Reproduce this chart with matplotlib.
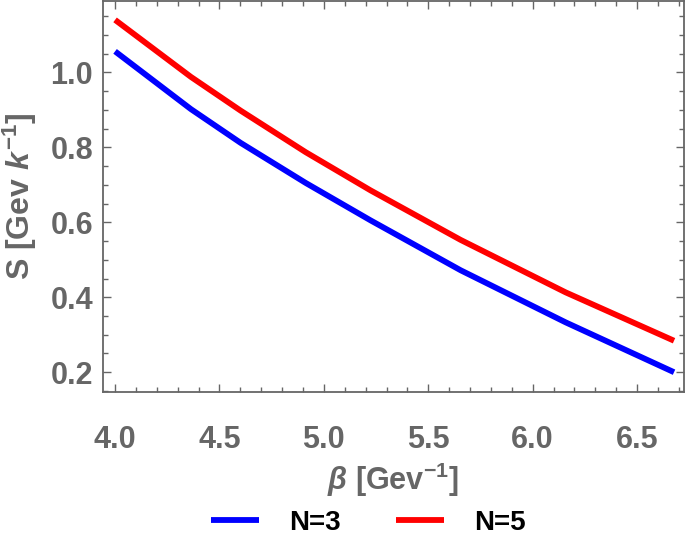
import matplotlib
matplotlib.use("Agg")
import matplotlib.pyplot as plt
from matplotlib.ticker import MultipleLocator

plt.rcParams["font.family"] = ["Liberation Sans", "DejaVu Sans"]
plt.rcParams["font.weight"] = "bold"
plt.rcParams["axes.labelweight"] = "bold"
plt.rcParams["mathtext.fontset"] = "custom"
plt.rcParams["mathtext.rm"] = "Liberation Sans:bold"
plt.rcParams["mathtext.it"] = "Liberation Sans:bold:italic"
plt.rcParams["mathtext.bf"] = "Liberation Sans:bold"

# values
beta = [4.0, 4.363, 4.601, 4.913, 5.224, 5.655, 6.158, 6.677]
s_n3 = [1.056, 0.902, 0.812, 0.705, 0.605, 0.472, 0.333, 0.200]
s_n5 = [1.140, 0.988, 0.898, 0.787, 0.685, 0.553, 0.413, 0.284]
labels = ["N=3", "N=5"]

gray = "#666666"

fig = plt.figure(figsize=(6.85, 5.46), dpi=100)
ax = fig.add_axes([0.15, 0.2826, 0.848, 0.716])

ax.plot(beta, s_n3, color="#0000ff", lw=4.2, solid_capstyle="butt", label=labels[0])
ax.plot(beta, s_n5, color="#ff0000", lw=4.2, solid_capstyle="butt", label=labels[1])

ax.set_xlim(3.941, 6.723)
ax.set_ylim(0.148, 1.191)

ax.xaxis.set_major_locator(MultipleLocator(0.5))
ax.xaxis.set_minor_locator(MultipleLocator(0.1))
ax.yaxis.set_major_locator(MultipleLocator(0.2))
ax.yaxis.set_minor_locator(MultipleLocator(0.05))
ax.xaxis.set_major_formatter(plt.FuncFormatter(lambda v, p: f"{v:.1f}"))
ax.yaxis.set_major_formatter(plt.FuncFormatter(lambda v, p: f"{v:.1f}"))

for s in ax.spines.values():
    s.set_color(gray)
    s.set_linewidth(1.3)

ax.tick_params(which="both", direction="in", top=True, right=True, color=gray,
               width=1.0, labelcolor=gray, labelsize=22)
ax.tick_params(which="major", length=6)
ax.tick_params(which="minor", length=3.5)
ax.tick_params(axis="x", which="major", pad=24)
ax.tick_params(axis="y", which="major", pad=7)

ax.set_xlabel(r"$\beta$ [Gev$^{-1}$]", fontsize=22, color=gray, labelpad=4)
ax.set_ylabel(r"S [Gev $k^{-1}$]", fontsize=23, color=gray, labelpad=8)

fig.legend(loc="center", bbox_to_anchor=(0.538, 0.043), ncol=2, frameon=False,
           handlelength=1.7, handletextpad=1.1, columnspacing=2.0,
           prop={"weight": "bold", "size": 20})

fig.savefig("out.png", dpi=100)
